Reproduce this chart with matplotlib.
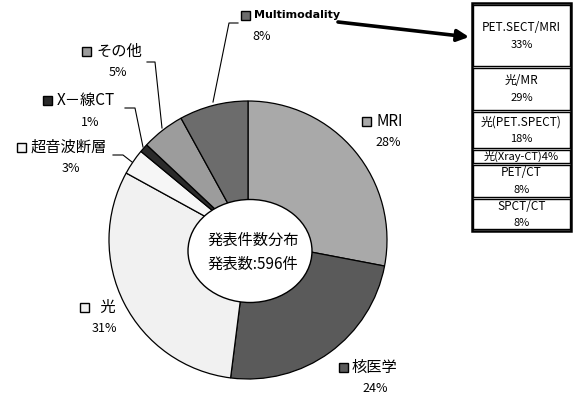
import matplotlib.pyplot as plt
from matplotlib.patches import Ellipse, Rectangle

plt.rcParams['font.family'] = ['Noto Sans CJK JP', 'DejaVu Sans']

# share of presentations by modality (%), clockwise from 12 o'clock
modalities = ["MRI", "核医学", "光", "超音波断層", "X－線CT", "その他", "Multimodality"]
shares = [28, 24, 31, 3, 1, 5, 8]
colors = ["#a9a9a9", "#5a5a5a", "#f1f1f1", "#f6f6f6", "#2a2a2a", "#9c9c9c", "#6c6c6c"]

# breakdown of the Multimodality slice
multi_labels = ["PET.SECT/MRI", "光/MR", "光(PET.SPECT)", "光(Xray-CT)", "PET/CT", "SPCT/CT"]
multi_shares = [33, 29, 18, 4, 8, 8]

center_title = "発表件数分布"
total_count = 596

W, H = 573, 395
fig = plt.figure(figsize=(W / 100, H / 100), dpi=100)
ax = fig.add_axes([0, 0, 1, 1])


def Y(y):
    return H - y


cx, cy, r = 248, 240, 139
ax.pie(shares, colors=colors, startangle=90, counterclock=False,
       radius=r, center=(cx, Y(cy)),
       wedgeprops=dict(edgecolor="black", linewidth=0.9))
ax.set_xlim(0, W)
ax.set_ylim(0, H)
ax.axis("off")

# white hole with the caption
ax.add_patch(Ellipse((250, Y(251)), 124, 103, facecolor="white",
                     edgecolor="black", linewidth=1.0, zorder=5))
ax.text(253, Y(240), center_title, ha="center", va="center", fontsize=11, zorder=6)
ax.text(253, Y(264), f"発表数:{total_count}件", ha="center", va="center",
        fontsize=11, zorder=6)

# label layout: (square x, y, text x, percent x, percent y)
label_pos = {
    "MRI": (366, 121, 376, 388, 142),
    "核医学": (343, 367, 352, 375, 388),
    "光": (84, 307, 97, 104, 328),
    "超音波断層": (21, 147, 31, 71, 168),
    "X－線CT": (47, 100, 57, 90, 122),
    "その他": (86, 51, 96, 118, 73),
    "Multimodality": (245, 15, 254, 262, 37),
}
for name, share, col in zip(modalities, shares, colors):
    sx, sy, tx, px, py = label_pos[name]
    ax.add_patch(Rectangle((sx - 4.5, Y(sy) - 4.5), 9, 9, facecolor=col,
                           edgecolor="black", linewidth=1.0))
    if name == "Multimodality":
        ax.text(tx, Y(sy), name, ha="left", va="center", fontsize=8,
                fontweight="bold", family="DejaVu Sans")
    else:
        ax.text(tx, Y(sy), name if name != "光" else " " + name, ha="left",
                va="center", fontsize=11)
    ax.text(px, Y(py), f"{share}%", ha="center", va="center", fontsize=9)

# leader lines
leaders = [
    [(213, 102), (229, 23), (238, 23)],
    [(162, 128), (155, 62), (147, 62)],
    [(143, 147), (135, 108), (125, 108)],
    [(132, 162), (123, 155), (113, 155)],
]
for pts in leaders:
    ax.plot([p[0] for p in pts], [Y(p[1]) for p in pts], color="black",
            linewidth=0.8)

# arrow to the breakdown table
ax.annotate("", xy=(469, Y(37)), xytext=(338, Y(22)),
            arrowprops=dict(arrowstyle="-|>,head_length=0.7,head_width=0.35",
                            color="black", linewidth=2.6, shrinkA=0, shrinkB=0))

# breakdown table
bx0, bx1 = 473, 570
rows = [(5, 66), (68, 110), (112, 148), (150, 163), (165, 197), (199, 229)]
ax.add_patch(Rectangle((bx0 - 1, Y(231)), bx1 - bx0 + 2, 228,
                       facecolor="none", edgecolor="black", linewidth=1.8))
for (top, bot), lab, val in zip(rows, multi_labels, multi_shares):
    ax.add_patch(Rectangle((bx0, Y(bot)), bx1 - bx0, bot - top,
                           facecolor="white", edgecolor="black", linewidth=1.0))
    mid = (top + bot) / 2
    xc = (bx0 + bx1) / 2
    if bot - top < 20:
        ax.text(xc, Y(mid), f"{lab}{val}%", ha="center", va="center", fontsize=8)
    else:
        ax.text(xc, Y(mid - 8), lab, ha="center", va="center", fontsize=8.5)
        ax.text(xc, Y(mid + 9), f"{val}%", ha="center", va="center", fontsize=8)

fig.savefig("out.png", dpi=100)
